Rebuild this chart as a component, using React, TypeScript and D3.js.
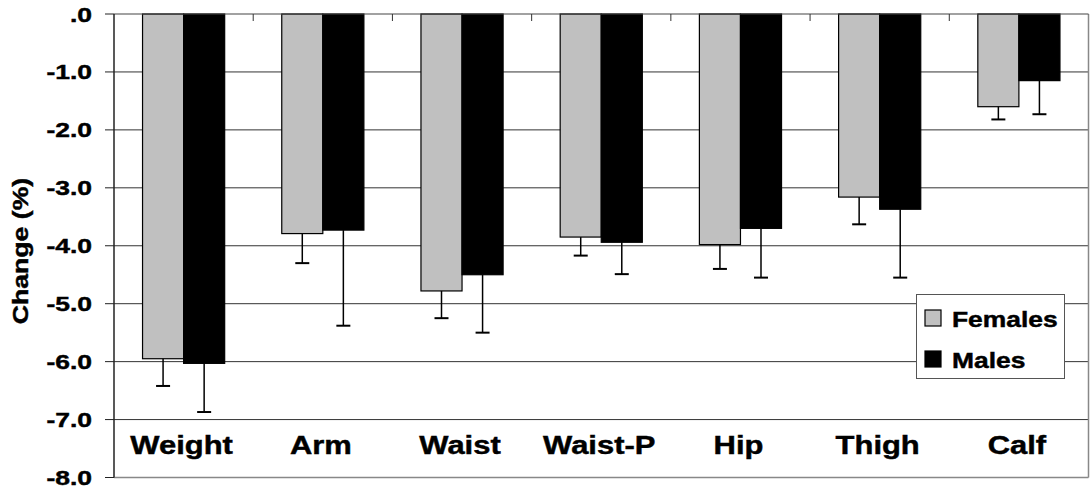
import React from "react";
import * as d3 from "d3";

const categories = ["Weight", "Arm", "Waist", "Waist-P", "Hip", "Thigh", "Calf"];
const females = [-5.95, -3.79, -4.78, -3.85, -3.98, -3.16, -1.6];
const femalesErr = [0.47, 0.51, 0.47, 0.32, 0.42, 0.47, 0.22];
const males = [-6.03, -3.73, -4.5, -3.94, -3.7, -3.37, -1.15];
const malesErr = [0.84, 1.65, 1.0, 0.55, 0.85, 1.18, 0.58];
const yTicks = [0, -1, -2, -3, -4, -5, -6, -7, -8];
const yTickLabels = [".0", "-1.0", "-2.0", "-3.0", "-4.0", "-5.0", "-6.0", "-7.0", "-8.0"];
const seriesNames = ["Females", "Males"];
const seriesColors = ["#C0C0C0", "#000000"];

const W = 1092;
const H = 493;
const left = 114;
const right = 1088.5;
const top = 14;
const bottom = 477.5;
const FONT = "'Liberation Sans', Arial, Helvetica, sans-serif";
const TS = 0.45;

export default function App() {
  const y = d3.scaleLinear().domain([-8, 0]).range([bottom, top]);
  const x0 = d3
    .scaleBand<string>()
    .domain(categories)
    .range([left, right])
    .paddingInner(0.41)
    .paddingOuter(0.205);
  const x1 = d3.scaleBand<string>().domain(seriesNames).range([0, x0.bandwidth()]);
  const step = x0.step();
  const series = [
    { name: seriesNames[0], values: females, errs: femalesErr, color: seriesColors[0] },
    { name: seriesNames[1], values: males, errs: malesErr, color: seriesColors[1] },
  ];

  return (
    <svg
      width={W}
      height={H}
      style={{ position: "absolute", left: 0, top: 0, background: "#fff" }}
      fontFamily={FONT}
    >
      {yTicks
        .filter((t) => t < 0 && t > -8)
        .map((t) => (
          <line key={"g" + t} x1={left} x2={right} y1={y(t)} y2={y(t)} stroke="#333" strokeWidth={1} />
        ))}
      <line x1={right} x2={right} y1={top} y2={bottom} stroke="#888" strokeWidth={1.5} />
      <line x1={left} x2={right} y1={bottom} y2={bottom} stroke="#888" strokeWidth={1.5} />
      {series.map((s) =>
        categories.map((c, i) => {
          const bx = (x0(c) as number) + (x1(s.name) as number);
          const bw = x1.bandwidth();
          return (
            <rect
              key={s.name + c}
              x={bx}
              y={y(0)}
              width={bw}
              height={y(s.values[i]) - y(0)}
              fill={s.color}
              stroke="#000"
              strokeWidth={1.2}
            />
          );
        })
      )}
      {series.map((s) =>
        categories.map((c, i) => {
          const cx = (x0(c) as number) + (x1(s.name) as number) + x1.bandwidth() / 2;
          const y1v = y(s.values[i]);
          const y2v = y(s.values[i] - s.errs[i]);
          return (
            <g key={"e" + s.name + c} stroke="#000">
              <line x1={cx} x2={cx} y1={y1v} y2={y2v} strokeWidth={1.5} />
              <line x1={cx - 7} x2={cx + 7} y1={y2v} y2={y2v} strokeWidth={2} />
            </g>
          );
        })
      )}
      <line x1={left} x2={right} y1={y(0)} y2={y(0)} stroke="#444" strokeWidth={1.2} />
      {d3.range(1, categories.length).map((i) => (
        <line
          key={"xt" + i}
          x1={left + i * step}
          x2={left + i * step}
          y1={y(0)}
          y2={y(0) + 7}
          stroke="#333"
          strokeWidth={1}
        />
      ))}
      <line x1={left} x2={left} y1={top} y2={bottom} stroke="#222" strokeWidth={1.5} />
      {yTicks.map((t, i) => (
        <g key={"yt" + t}>
          <line x1={left - 9} x2={left} y1={y(t)} y2={y(t)} stroke="#222" strokeWidth={1} />
          <text
            transform={`translate(92,${y(t) + 7.5}) scale(1.26,1)`}
            textAnchor="end"
            fontSize={21}
            fontWeight="bold"
            fill="#000"
            stroke="#000"
            strokeWidth={TS}
          >
            {yTickLabels[i]}
          </text>
        </g>
      ))}
      <text
        transform={`translate(27.5,251) rotate(-90) scale(1.21,1)`}
        textAnchor="middle"
        fontSize={22}
        fontWeight="bold"
        fill="#000"
        stroke="#000"
        strokeWidth={TS}
      >
        Change (%)
      </text>
      {categories.map((c) => (
        <text
          key={"cl" + c}
          transform={`translate(${(x0(c) as number) + x0.bandwidth() / 2 - 2},453.5) scale(1.19,1)`}
          textAnchor="middle"
          fontSize={26}
          fontWeight="bold"
          fill="#000"
          stroke="#000"
          strokeWidth={TS}
        >
          {c}
        </text>
      ))}
      <g>
        <rect x={916.5} y={294.5} width={148} height={84} fill="#fff" stroke="#555" strokeWidth={1} />
        {series.map((s, i) => (
          <g key={"lg" + s.name}>
            <rect
              x={925}
              y={310 + i * 41}
              width={16}
              height={16}
              fill={s.color}
              stroke="#000"
              strokeWidth={1.2}
            />
            <text
              transform={`translate(952,${326.7 + i * 41.5}) scale(1.2,1)`}
              fontSize={22}
              fontWeight="bold"
              fill="#000"
              stroke="#000"
              strokeWidth={TS}
            >
              {s.name}
            </text>
          </g>
        ))}
      </g>
    </svg>
  );
}
